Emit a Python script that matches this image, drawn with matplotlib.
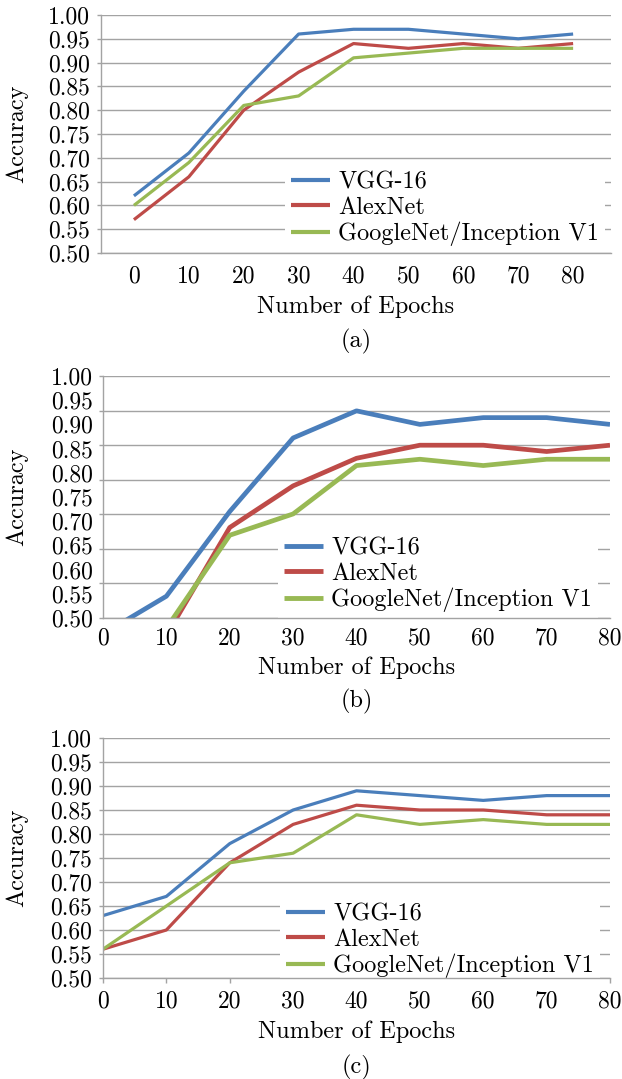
import matplotlib
matplotlib.use('Agg')
import matplotlib.pyplot as plt
import numpy as np

plt.rcParams['font.family'] = ['cmr10']
plt.rcParams['axes.formatter.use_mathtext'] = True
plt.rcParams['mathtext.fontset'] = 'cm'

# ---------------- data ----------------
epochs = [0, 10, 20, 30, 40, 50, 60, 70, 80]
epoch_labels = [str(e) for e in epochs]
series_names = ['VGG-16', 'AlexNet', 'GoogleNet/Inception V1']

a_vgg = [0.62, 0.71, 0.84, 0.96, 0.97, 0.97, 0.96, 0.95, 0.96]
a_alex = [0.57, 0.66, 0.80, 0.88, 0.94, 0.93, 0.94, 0.93, 0.94]
a_google = [0.60, 0.69, 0.81, 0.83, 0.91, 0.92, 0.93, 0.93, 0.93]

b_vgg = [0.467, 0.545, 0.720, 0.872, 0.928, 0.900, 0.914, 0.914, 0.900]
b_alex = [np.nan, 0.464, 0.687, 0.773, 0.830, 0.857, 0.857, 0.844, 0.857]
b_google = [np.nan, 0.479, 0.671, 0.715, 0.815, 0.828, 0.815, 0.828, 0.828]

c_vgg = [0.63, 0.67, 0.78, 0.85, 0.89, 0.88, 0.87, 0.88, 0.88]
c_alex = [0.56, 0.60, 0.74, 0.82, 0.86, 0.85, 0.85, 0.84, 0.84]
c_google = [0.56, 0.65, 0.74, 0.76, 0.84, 0.82, 0.83, 0.82, 0.82]

y_ticks = [0.50, 0.55, 0.60, 0.65, 0.70, 0.75, 0.80, 0.85, 0.90, 0.95, 1.00]
y_tick_labels = ['0.50', '0.55', '0.60', '0.65', '0.70', '0.75',
                 '0.80', '0.85', '0.90', '0.95', '1.00']
captions = ['(a)', '(b)', '(c)']
x_title = 'Number of Epochs'
y_title = 'Accuracy'

# ---------------- style ----------------
COLORS = ['#4A7EBB', '#BE4B48', '#98B954']
GRID = '#a3a3a3'
FS = 17.5
TFS = 17.0
W, H = 622, 1079

fig = plt.figure(figsize=(W / 100, H / 100), dpi=100)


def box(l, r, t, b):
    return [l / W, 1 - b / H, (r - l) / W, (b - t) / H]


panels = [
    dict(pos=(101, 611, 15, 253), data=(a_vgg, a_alex, a_google), xlim=(-6.0, 86.9),
         lw=2.3, xtick_len=0, xpad=9, leg=(285, 209), xlab_y=307, cap_y=341, odd_grid=False),
    dict(pos=(103, 610, 376, 618), data=(b_vgg, b_alex, b_google), xlim=(0, 80),
         lw=3.4, xtick_len=0, xpad=7, leg=(278, 575), xlab_y=668, cap_y=701, odd_grid=True),
    dict(pos=(103, 610, 738, 978), data=(c_vgg, c_alex, c_google), xlim=(0, 80),
         lw=2.3, xtick_len=3.6, xpad=5, leg=(280, 941), xlab_y=1032, cap_y=1067, odd_grid=False),
]

for p, cap in zip(panels, captions):
    l, r, t, b = p['pos']
    ax = fig.add_axes(box(l, r, t, b))
    handles = []
    for vals, col, name in zip(p['data'], COLORS, series_names):
        h, = ax.plot(epochs, vals, color=col, lw=p['lw'], solid_joinstyle='round',
                     solid_capstyle='butt', label=name, zorder=2)
        handles.append(h)
    ax.set_xlim(*p['xlim'])
    ax.set_ylim(0.5, 1.0)
    for s in ['top', 'right']:
        ax.spines[s].set_visible(False)
    for s in ['left', 'bottom']:
        ax.spines[s].set_color(GRID)
        ax.spines[s].set_linewidth(1.0)
    ax.set_axisbelow(True)
    if p['odd_grid']:
        ax.yaxis.remove_overlapping_locs = False
        ax.set_yticks(np.linspace(0.5, 1.0, 8))
        ax.set_yticklabels([])
        ax.set_yticks(y_ticks, labels=y_tick_labels, minor=True)
        ax.tick_params(axis='y', which='major', length=3, width=1.0, color=GRID)
        ax.tick_params(axis='y', which='minor', length=0, pad=7, labelsize=TFS)
        ax.yaxis.grid(True, which='major', color=GRID, lw=1.0)
    else:
        ax.set_yticks(y_ticks, labels=y_tick_labels)
        ax.tick_params(axis='y', length=3, width=1.0, color=GRID, pad=5, labelsize=TFS)
        ax.yaxis.grid(True, color=GRID, lw=1.0)
    ax.set_xticks(epochs, labels=epoch_labels)
    ax.tick_params(axis='x', length=p['xtick_len'], width=1.0, color=GRID,
                   pad=p['xpad'], labelsize=TFS)
    leg = ax.legend(handles=handles, loc='center left',
                    bbox_to_anchor=(p['leg'][0] / W, 1 - p['leg'][1] / H),
                    bbox_transform=fig.transFigure, frameon=True, facecolor='white',
                    edgecolor='none', framealpha=1, fancybox=False, borderpad=0.25,
                    handlelength=1.6, handletextpad=0.35, labelspacing=0.12,
                    borderaxespad=0, fontsize=FS)
    leg.set_zorder(2.2)
    for lh in leg.get_lines():
        lh.set_linewidth(3.0 if not p['odd_grid'] else 3.5)
    cx = (l + r) / 2
    fig.text(cx / W, 1 - p['xlab_y'] / H, x_title, ha='center', va='center', fontsize=FS)
    fig.text(cx / W, 1 - p['cap_y'] / H, cap, ha='center', va='center', fontsize=FS)
    fig.text(17 / W, 1 - ((t + b) / 2) / H, y_title, ha='center', va='center',
             rotation=90, fontsize=FS)

fig.savefig('out.png', dpi=100)
